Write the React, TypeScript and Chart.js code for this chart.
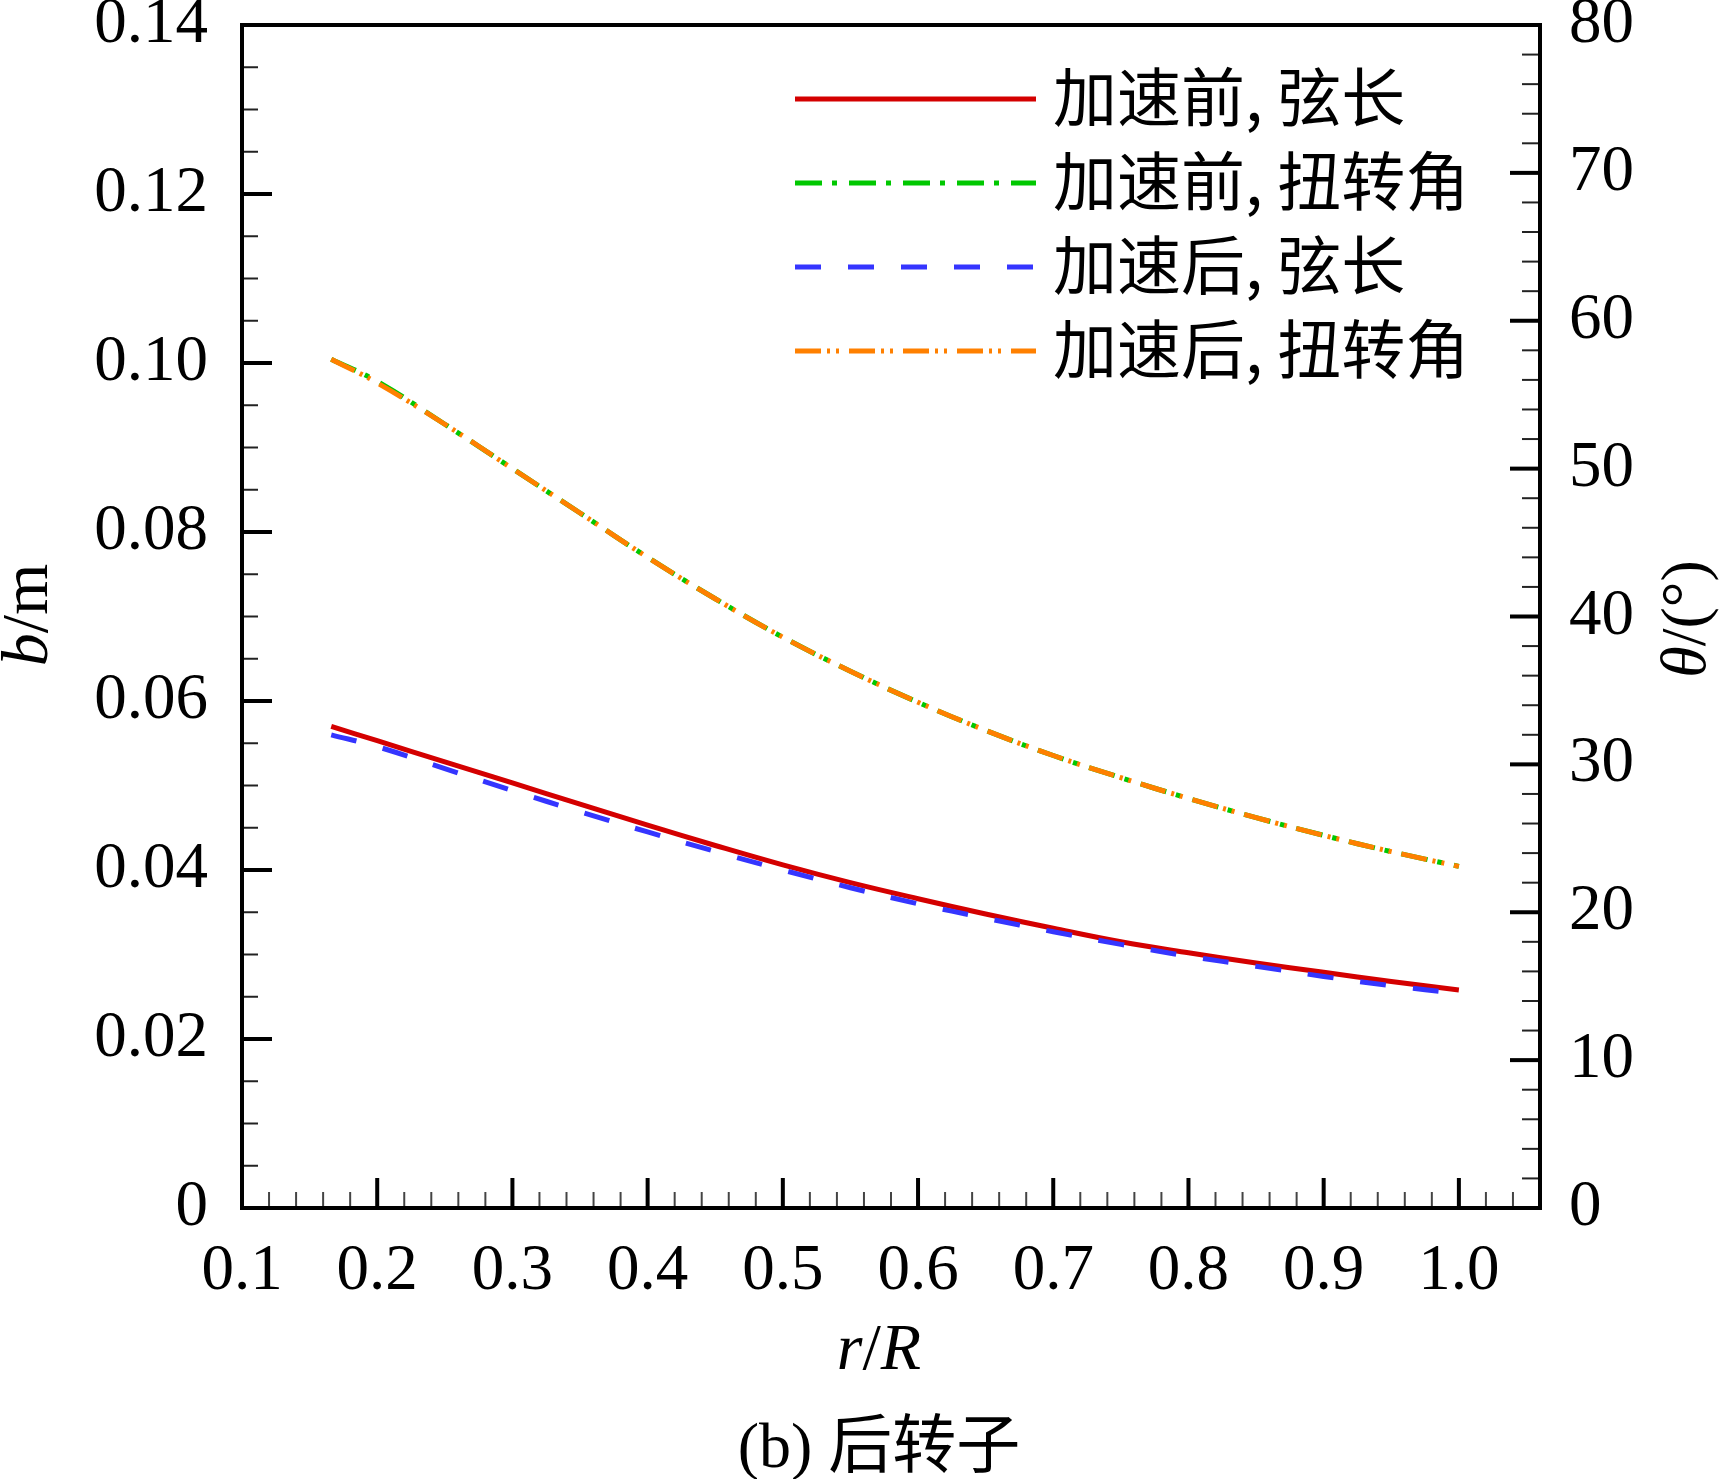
import React, { useEffect, useRef } from "react";
import { Chart, registerables } from "chart.js";

Chart.register(...registerables);

// ---------- data ----------
const rPositions = [0.166, 0.2, 0.25, 0.3, 0.35, 0.4, 0.45, 0.5, 0.55, 0.6, 0.65, 0.7, 0.75, 0.8, 0.85, 0.9, 0.95, 1.0];
const chordBefore = [0.0570, 0.0553, 0.0528, 0.0503, 0.0478, 0.0453, 0.0429, 0.0406, 0.0385, 0.0366, 0.0348, 0.0331, 0.0315, 0.0302, 0.0290, 0.0279, 0.0268, 0.0258];
const twistBefore = [57.4, 55.9, 53.0, 50.0, 47.0, 44.0, 41.2, 38.6, 36.3, 34.2, 32.3, 30.6, 29.1, 27.7, 26.4, 25.2, 24.1, 23.1];
const chordAfter = [0.0560, 0.0546, 0.0520, 0.0494, 0.0469, 0.0445, 0.0422, 0.0400, 0.0379, 0.0360, 0.0343, 0.0327, 0.0312, 0.0298, 0.0286, 0.0274, 0.0263, 0.0254];
const twistAfter = [57.4, 55.8, 53.0, 50.0, 47.0, 44.0, 41.2, 38.6, 36.3, 34.2, 32.3, 30.6, 29.1, 27.7, 26.4, 25.2, 24.1, 23.1];

const seriesLabels = ["加速前, 弦长", "加速前, 扭转角", "加速后, 弦长", "加速后, 扭转角"];

const xTickValues = [0.1, 0.2, 0.3, 0.4, 0.5, 0.6, 0.7, 0.8, 0.9, 1.0];
const leftTickValues = [0, 0.02, 0.04, 0.06, 0.08, 0.1, 0.12, 0.14];
const rightTickValues = [0, 10, 20, 30, 40, 50, 60, 70, 80];

const SERIF = '"Liberation Serif", "Times New Roman", serif';
const CJK = '"Noto Sans CJK SC", "Noto Sans", sans-serif';

const toPoints = (ys: number[]) => rPositions.map((r, i) => ({ x: r, y: ys[i] }));

type Part = { text: string; font: string };

function drawParts(ctx: CanvasRenderingContext2D, parts: Part[], cx: number, cy: number, rot: number, baseShift: number) {
  ctx.save();
  ctx.translate(cx, cy);
  ctx.rotate(rot);
  let total = 0;
  const widths = parts.map((p) => {
    ctx.font = p.font;
    const w = ctx.measureText(p.text).width;
    total += w;
    return w;
  });
  let x = -total / 2;
  ctx.textAlign = "left";
  ctx.textBaseline = "alphabetic";
  ctx.fillStyle = "#000";
  parts.forEach((p, i) => {
    ctx.font = p.font;
    ctx.fillText(p.text, x, baseShift);
    x += widths[i];
  });
  ctx.restore();
}

const decorPlugin = {
  id: "decor",
  afterDraw(chart: any) {
    const { ctx, chartArea: a, scales } = chart;
    const sx = scales.x;
    const yl = scales.y;
    const yr = scales.y1;
    ctx.save();
    ctx.strokeStyle = "#000";
    ctx.lineCap = "butt";

    const line = (x1: number, y1: number, x2: number, y2: number, w: number, c: string) => {
      ctx.beginPath();
      ctx.lineWidth = w;
      ctx.strokeStyle = c;
      ctx.moveTo(x1, y1);
      ctx.lineTo(x2, y2);
      ctx.stroke();
    };

    // bottom ticks (major 0.1, minor 0.02)
    for (let i = 0; i <= 60; i++) {
      const v = 0.1 + i * 0.02;
      if (v > 1.0601) break;
      const px = sx.getPixelForValue(v);
      const major = i % 5 === 0;
      if (major) line(px, a.bottom, px, a.bottom - 30, 4, "#000");
      else line(px, a.bottom, px, a.bottom - 16, 2, "#444");
    }
    // left ticks (major 0.02, minor 0.005)
    for (let i = 0; i <= 28; i++) {
      const v = i * 0.005;
      const py = yl.getPixelForValue(v);
      if (i % 4 === 0) line(a.left, py, a.left + 30, py, 4, "#000");
      else line(a.left, py, a.left + 16, py, 2, "#222");
    }
    // right ticks (major 10, minor 2)
    for (let i = 0; i <= 40; i++) {
      const v = i * 2;
      const py = yr.getPixelForValue(v);
      if (i % 5 === 0) line(a.right, py, a.right - 30, py, 4, "#000");
      else line(a.right, py, a.right - 18, py, 2, "#222");
    }
    // frame
    ctx.lineWidth = 4;
    ctx.strokeStyle = "#000";
    ctx.strokeRect(a.left, a.top, a.right - a.left, a.bottom - a.top);

    // legend
    const ds = chart.data.datasets;
    const lx1 = 795;
    const lx2 = 1036;
    seriesLabels.forEach((label, i) => {
      const d = ds[i];
      const y = 99 + i * 84;
      ctx.beginPath();
      ctx.lineWidth = d.borderWidth;
      ctx.strokeStyle = d.borderColor;
      ctx.setLineDash(d.borderDash || []);
      ctx.lineDashOffset = 0;
      ctx.moveTo(lx1, y);
      ctx.lineTo(lx2, y);
      ctx.stroke();
      ctx.setLineDash([]);
      ctx.font = `64px ${CJK}`;
      ctx.fillStyle = "#000";
      ctx.textAlign = "left";
      ctx.textBaseline = "middle";
      ctx.fillText(label, 1053, y - 2);
    });

    // axis titles
    const it = (s: number) => `italic ${s}px ${SERIF}`;
    const nm = (s: number) => `${s}px ${SERIF}`;
    drawParts(ctx, [{ text: "b", font: it(66) }, { text: "/m", font: nm(66) }], 25, 615, -Math.PI / 2, 22);
    drawParts(
      ctx,
      [{ text: "θ", font: it(64) }, { text: "/(°)", font: nm(64) }],
      1683,
      619,
      -Math.PI / 2,
      22
    );
    drawParts(
      ctx,
      [{ text: "r", font: it(66) }, { text: "/", font: nm(66) }, { text: "R", font: it(66) }],
      879,
      1347,
      0,
      22
    );
    drawParts(ctx, [{ text: "(b) ", font: nm(64) }, { text: "后转子", font: `64px ${CJK}` }], 879, 1445, 0, 22);

    ctx.restore();
  },
};

export default function App() {
  const ref = useRef<HTMLCanvasElement | null>(null);

  useEffect(() => {
    const canvas = ref.current;
    if (!canvas) return;
    const tickFont = { family: SERIF, size: 65 };
    const chart = new Chart(canvas, {
      type: "line",
      data: {
        datasets: [
          {
            label: seriesLabels[0],
            data: toPoints(chordBefore),
            yAxisID: "y",
            borderColor: "#d40000",
            borderWidth: 5,
            borderDash: [],
            order: 3,
          },
          {
            label: seriesLabels[1],
            data: toPoints(twistBefore),
            yAxisID: "y1",
            borderColor: "#00c800",
            borderWidth: 5,
            borderDash: [27, 10, 5, 12],
            order: 2,
          },
          {
            label: seriesLabels[2],
            data: toPoints(chordAfter),
            yAxisID: "y",
            borderColor: "#3535ff",
            borderWidth: 5,
            borderDash: [26, 27],
            order: 1,
          },
          {
            label: seriesLabels[3],
            data: toPoints(twistAfter),
            yAxisID: "y1",
            borderColor: "#ff8000",
            borderWidth: 5,
            borderDash: [26, 6, 3, 6, 3, 10],
            order: 0,
          },
        ] as any,
      },
      options: {
        responsive: false,
        maintainAspectRatio: false,
        animation: false,
        layout: { padding: { top: 25, left: 0, right: 0, bottom: 0 } },
        elements: {
          point: { radius: 0, hoverRadius: 0 },
          line: { tension: 0.4, borderCapStyle: "butt", borderJoinStyle: "round", fill: false },
        },
        plugins: { legend: { display: false }, tooltip: { enabled: false } },
        scales: {
          x: {
            type: "linear",
            position: "bottom",
            min: 0.1,
            max: 1.06,
            grid: { display: false, drawTicks: false },
            border: { display: false },
            afterBuildTicks: (s: any) => {
              s.ticks = xTickValues.map((v) => ({ value: v }));
            },
            ticks: {
              autoSkip: false,
              maxRotation: 0,
              minRotation: 0,
              padding: 25,
              color: "#000",
              font: tickFont,
              callback: (v: any) => Number(v).toFixed(1),
            },
            afterFit: (s: any) => {
              s.height = 271;
              s.paddingLeft = 0;
              s.paddingRight = 0;
            },
          },
          y: {
            type: "linear",
            position: "left",
            min: 0,
            max: 0.14,
            grid: { display: false, drawTicks: false },
            border: { display: false },
            afterBuildTicks: (s: any) => {
              s.ticks = leftTickValues.map((v) => ({ value: v }));
            },
            ticks: {
              padding: 34,
              color: "#000",
              font: tickFont,
              callback: (v: any) => (Number(v) === 0 ? "0" : Number(v).toFixed(2)),
            },
            afterFit: (s: any) => {
              s.width = 242;
              s.paddingTop = 0;
              s.paddingBottom = 0;
            },
          },
          y1: {
            type: "linear",
            position: "right",
            min: 0,
            max: 80,
            grid: { display: false, drawTicks: false },
            border: { display: false },
            afterBuildTicks: (s: any) => {
              s.ticks = rightTickValues.map((v) => ({ value: v }));
            },
            ticks: {
              padding: 29,
              color: "#000",
              font: tickFont,
              callback: (v: any) => String(Number(v)),
            },
            afterFit: (s: any) => {
              s.width = 179;
              s.paddingTop = 0;
              s.paddingBottom = 0;
            },
          },
        },
      } as any,
      plugins: [decorPlugin],
    });
    return () => chart.destroy();
  }, []);

  return (
    <canvas
      ref={ref}
      width={1719}
      height={1479}
      style={{ position: "absolute", left: 0, top: 0, width: 1719, height: 1479, background: "#fff" }}
    />
  );
}
